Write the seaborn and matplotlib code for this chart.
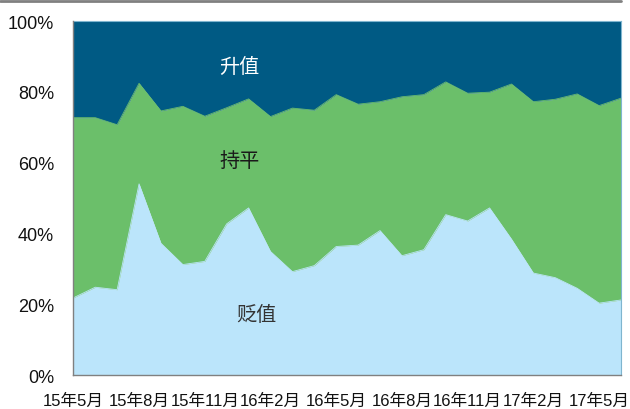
import numpy as np
import pandas as pd
import matplotlib
matplotlib.use("Agg")
import matplotlib.pyplot as plt
import seaborn as sns

months = ["15年5月", "15年6月", "15年7月", "15年8月", "15年9月", "15年10月", "15年11月",
          "15年12月", "16年1月", "16年2月", "16年3月", "16年4月", "16年5月", "16年6月",
          "16年7月", "16年8月", "16年9月", "16年10月", "16年11月", "16年12月", "17年1月",
          "17年2月", "17年3月", "17年4月", "17年5月", "17年6月"]
# share (%) of each outcome
depreciate = [21.8, 24.8, 24.1, 54.0, 37.2, 31.2, 32.1, 42.7, 47.2, 34.9, 29.2, 30.9, 36.3,
              36.7, 40.8, 33.7, 35.4, 45.3, 43.5, 47.2, 38.4, 28.8, 27.5, 24.5, 20.3, 21.2]
flat = [50.9, 47.9, 46.6, 28.4, 37.4, 44.7, 41.0, 32.8, 30.8, 38.1, 46.2, 43.9, 42.9,
        39.8, 36.4, 44.9, 43.8, 37.5, 36.1, 32.7, 43.8, 48.4, 50.4, 54.9, 55.8, 57.0]
appreciate = [100 - d - f for d, f in zip(depreciate, flat)]
series_names = ["贬值", "持平", "升值"]
tick_labels = ["15年5月", "15年8月", "15年11月", "16年2月", "16年5月", "16年8月",
               "16年11月", "17年2月", "17年5月"]

sns.set_style("white")
plt.rcParams["font.family"] = ["Liberation Sans", "Noto Sans CJK SC", "DejaVu Sans"]

df = pd.DataFrame({"idx": np.arange(len(months)), "month": months,
                   "贬值": depreciate, "持平": flat, "升值": appreciate})
df["b1"] = df["贬值"]
df["b2"] = df["贬值"] + df["持平"]
df["b3"] = df["b2"] + df["升值"]

colors = ["#BBE5FB", "#6BBF6A", "#005A84"]

fig = plt.figure(figsize=(6.3, 4.1), dpi=100)
ax = fig.add_axes([0.1164, 0.0829, 0.8693, 0.8634])

lower = np.zeros(len(df))
for col, c in zip(["b1", "b2", "b3"], colors):
    ax.fill_between(df["idx"], lower, df[col], color=c, linewidth=0, zorder=1)
    sns.lineplot(data=df, x="idx", y=col, color=c, linewidth=0.6, ax=ax, zorder=2)
    lower = df[col].values

ax.set_xlim(0, len(months) - 1)
ax.set_ylim(0, 100)
ax.set_xlabel("")
ax.set_ylabel("")
ax.set_yticks(np.arange(0, 101, 20))
ax.set_yticklabels([f"{v}%" for v in range(0, 101, 20)], fontsize=13)
tick_pos = [months.index(t) for t in tick_labels]
ax.set_xticks(tick_pos)
ax.set_xticklabels(tick_labels, fontsize=12)
ax.tick_params(axis="both", direction="out", length=5, width=1, color="#808080",
               labelcolor="#111111")
ax.tick_params(axis="y", pad=9)
ax.tick_params(axis="x", pad=8)

for s in ["left", "bottom"]:
    ax.spines[s].set_color("#808080")
    ax.spines[s].set_linewidth(1)
    ax.spines[s].set_zorder(5)
for s in ["top", "right"]:
    ax.spines[s].set_color("#7FB5CF")
    ax.spines[s].set_linewidth(0.8)

ax.text(7.57, 87.3, "升值", color="white", fontsize=14.5, ha="center", va="center")
ax.text(7.6, 60.7, "持平", color="#1a1a1a", fontsize=14.5, ha="center", va="center")
ax.text(8.35, 17.0, "贬值", color="#333333", fontsize=14.5, ha="center", va="center")

fig.add_artist(plt.Line2D([0, 621 / 630], [1 - 2 / 410, 1 - 2 / 410],
                          color="#808080", linewidth=2, transform=fig.transFigure))

fig.savefig("out.png", dpi=100)
